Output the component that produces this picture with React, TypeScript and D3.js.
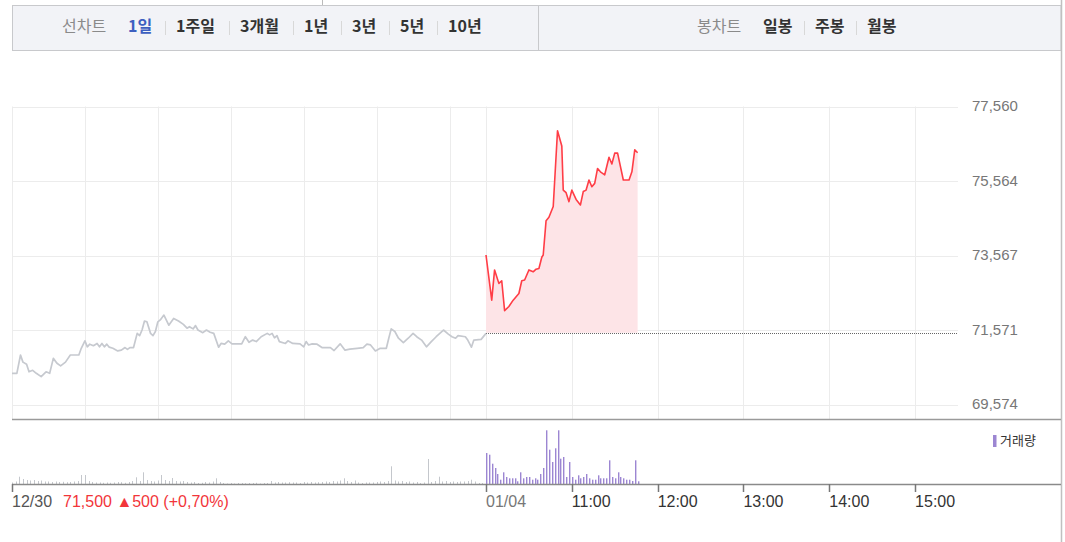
import React from 'react';
import * as d3 from 'd3';

// ---- data ----
const priceTicks = [69574, 71571, 73567, 75564, 77560];
const prevClose = 71500;

// 12/30 (09:00 start), minutes from open
const day1Minutes = [
  0, 4, 7, 9, 12, 14, 17, 20, 24, 28, 31, 34, 37, 40, 44, 48, 55, 57, 60, 62,
  64, 67, 70, 72, 74, 76, 78, 80, 83, 87, 90, 93, 95, 97, 100, 103, 105, 107, 109, 111,
  114, 116, 118, 120, 122, 125, 129, 133, 137, 141, 144, 146, 149, 151, 153, 157, 160, 163, 166, 170,
  172, 175, 178, 181, 185, 189, 192, 195, 198, 201, 205, 210, 212, 214, 216, 218, 220, 225, 227, 231,
  237, 240, 242, 244, 247, 251, 255, 262, 265, 270, 274, 278, 284, 289, 292, 295, 299, 303, 308, 310,
  312, 315, 318, 322, 326, 330, 333, 337, 341, 345, 349, 352, 355, 359, 362, 365, 367, 373, 375, 378,
  380, 386, 390,
];
const day1Prices = [
  70410, 70410, 70900, 70710, 70650, 70450, 70490, 70410, 70320, 70450, 70410, 70810, 70680, 70610, 70710, 70900, 70900, 71080, 71280, 71120,
  71190, 71150, 71210, 71120, 71210, 71120, 71190, 71110, 71080, 71010, 71030, 71100, 71050, 71100, 71100, 71480, 71420, 71570, 71810, 71790,
  71480, 71420, 71530, 71790, 71840, 71970, 71700, 71880, 71810, 71720, 71620, 71660, 71600, 71690, 71570, 71500, 71570, 71510, 71480, 71110,
  71210, 71190, 71280, 71200, 71200, 71200, 71390, 71240, 71300, 71260, 71390, 71480, 71440, 71480, 71360, 71420, 71260, 71210, 71280, 71210,
  71200, 71120, 71260, 71170, 71200, 71190, 71100, 71100, 71020, 71200, 71030, 71060, 71080, 71100, 71190, 71170, 71010, 71080, 71080, 71350,
  71600, 71530, 71350, 71230, 71350, 71480, 71390, 71300, 71120, 71260, 71390, 71480, 71570, 71460, 71390, 71350, 71420, 71390, 71300, 71110,
  71300, 71320, 71480,
];

// 01/04 (10:00 start), minutes from open
const day2Minutes = [
  0, 4, 6, 9, 11, 13, 16, 19, 23, 25, 27, 30, 33, 35, 37, 39, 40, 42, 44, 47,
  50, 53, 54, 56, 58, 60, 63, 66, 68, 70, 72, 74, 76, 78, 80, 83, 86, 88, 90, 92,
  96, 100, 102, 104, 106,
];
const day2Prices = [
  73580, 72370, 73180, 72820, 72890, 72090, 72200, 72370, 72550, 72890, 72910, 73180, 73130, 73200, 73220, 73520, 73580, 74500, 74590, 74880,
  76910, 76500, 75320, 75250, 75010, 75320, 75070, 74920, 75280, 75320, 75590, 75410, 75500, 75900, 75810, 75730, 76200, 76020, 76310, 76310,
  75590, 75590, 75810, 76400, 76320,
];

// volumes (relative units)
const day1VolStep = 3;
const day1Volumes = [
  15, 25, 73, 50, 40, 35, 40, 30, 35, 25,
  25, 20, 25, 20, 22, 18, 20, 25, 30, 90,
  90, 30, 20, 15, 15, 12, 15, 12, 15, 20,
  18, 12, 20, 30, 67, 30, 117, 40, 30, 25,
  35, 90, 40, 30, 60, 30, 25, 30, 20, 15,
  20, 10, 12, 20, 15, 25, 57, 20, 10, 5,
  10, 5, 10, 10, 8, 10, 10, 12, 5, 10,
  10, 30, 15, 20, 15, 15, 18, 15, 15, 10,
  20, 15, 20, 15, 18, 20, 25, 20, 30, 25,
  35, 57, 30, 20, 35, 15, 10, 15, 15, 15,
  20, 25, 20, 30, 177, 35, 25, 30, 20, 25,
  15, 20, 10, 15, 250, 20, 30, 73, 25, 30,
  20, 25, 20, 25, 25, 30, 43, 25, 10, 10,
  100,
];
const day2VolStep = 2;
const day2Volumes = [
  310, 293, 203, 160, 100, 43, 117, 70, 57, 57,
  57, 27, 117, 57, 70, 70, 43, 57, 43, 100,
  160, 537, 343, 220, 357, 537, 253, 270, 70, 220,
  70, 43, 87, 57, 70, 100, 57, 43, 43, 87,
  57, 57, 57, 237, 70, 57, 117, 70, 57, 43,
  43, 30, 237, 27,
];

const xTickLabels = ['12/30', '01/04', '11:00', '12:00', '13:00', '14:00', '15:00'];
const xTickMinutes = [0, 390, 450, 510, 570, 630, 690];
const gridMinutes = [0, 60, 120, 180, 240, 300, 360, 390, 450, 510, 570, 630, 690];

const lineTabs = ['1일', '1주일', '3개월', '1년', '3년', '5년', '10년'];
const candleTabs = ['일봉', '주봉', '월봉'];
const closeInfo = '71,500 ▲500 (+0,70%)';

const KR = '"Noto Sans CJK KR", "Noto Sans", sans-serif';
const NUM = '"Liberation Sans", Arial, sans-serif';

function estW(s: string, size: number) {
  let w = 0;
  for (const ch of s) w += /[0-9]/.test(ch) ? size * 0.75 : size;
  return w;
}

function TabGroup({ title, items, x0, active }: { title: string; items: string[]; x0: number; active: number }) {
  const els: React.ReactNode[] = [];
  let x = x0;
  els.push(
    <text key="t" x={x} y={28} fontSize={16} fill="#8a8a8a" fontFamily={KR} dominantBaseline="middle">{title}</text>
  );
  x += estW(title, 16) + 18;
  items.forEach((it, i) => {
    if (i > 0) {
      els.push(<line key={'s' + i} x1={x - 10.5} x2={x - 10.5} y1={21} y2={35} stroke="#d8d8d8" />);
    }
    els.push(
      <text key={'i' + i} x={x} y={28} fontSize={16} fontWeight="bold" fill={i === active ? '#3d5fc0' : '#333'} fontFamily={KR} dominantBaseline="middle">{it}</text>
    );
    x += estW(it, 16) + 20;
  });
  return <g>{els}</g>;
}

export default function App() {
  const x = d3.scaleLinear().domain([0, 390, 720]).range([12, 486, 958]);
  const y = d3.scaleLinear().domain([priceTicks[0], priceTicks[4]]).range([404.5, 106.5]);
  const vy = d3.scaleLinear().domain([0, 540]).range([484, 430]);

  const d1: [number, number][] = day1Minutes.map((m, i) => [x(m), y(day1Prices[i])]);
  const d2: [number, number][] = day2Minutes.map((m, i) => [x(390 + m), y(day2Prices[i])]);
  const line = d3.line<[number, number]>();
  const area = d3.area<[number, number]>().x(d => d[0]).y0(y(prevClose)).y1(d => d[1]);

  const plotL = 12, plotR = 958, plotT = 106.5, priceBottom = 419.5, volBase = 484, frameR = 1061;

  return (
    <svg width={1065} height={542} style={{ position: 'absolute', left: 0, top: 0, background: '#fff' }}>
      {/* tab bar */}
      <line x1={322.5} x2={322.5} y1={0} y2={5} stroke="#bbb" />
      <rect x={12.5} y={5.5} width={frameR - 12.5} height={45} fill="#f2f3f7" stroke="#c8c9cc" />
      <line x1={538.5} x2={538.5} y1={5.5} y2={50.5} stroke="#c8c9cc" />
      <TabGroup title="선차트" items={lineTabs} x0={62} active={0} />
      <TabGroup title="봉차트" items={candleTabs} x0={697} active={-1} />

      {/* right frame */}
      <line x1={frameR + 0.5} x2={frameR + 0.5} y1={0} y2={542} stroke="#c0c0c0" strokeWidth={1.5} />

      {/* grid */}
      {priceTicks.map(t => (
        <line key={'h' + t} x1={plotL} x2={plotR} y1={Math.round(y(t)) + 0.5} y2={Math.round(y(t)) + 0.5} stroke="#ececec" />
      ))}
      {gridMinutes.map(m => (
        <line key={'v' + m} x1={Math.round(x(m)) + 0.5} x2={Math.round(x(m)) + 0.5} y1={plotT} y2={priceBottom} stroke="#ececec" />
      ))}

      {/* y labels */}
      {priceTicks.map(t => (
        <text key={'yl' + t} x={972} y={y(t) + 1} fontSize={15} fill="#777" fontFamily={NUM} dominantBaseline="middle">{d3.format(',')(t)}</text>
      ))}

      {/* area + lines */}
      <path d={area(d2) || ''} fill="#fde4e7" />
      <line x1={x(390)} x2={plotR} y1={Math.round(y(prevClose)) + 0.5} y2={Math.round(y(prevClose)) + 0.5} stroke="#666" strokeDasharray="1,1" />
      <path d={line(d1) || ''} fill="none" stroke="#c6c9cf" strokeWidth={1.7} strokeLinejoin="round" />
      <path d={line(d2) || ''} fill="none" stroke="#ff3d46" strokeWidth={1.6} strokeLinejoin="round" />

      {/* price panel bottom */}
      <line x1={plotL} x2={frameR} y1={priceBottom} y2={priceBottom} stroke="#9a9a9a" strokeWidth={1.5} />

      {/* volume */}
      {day1Volumes.map((v, i) => (
        <rect key={'v1' + i} x={Math.round(x(i * day1VolStep))} y={vy(v)} width={1} height={volBase - vy(v)} fill="#c4c7cc" />
      ))}
      {day2Volumes.map((v, i) => (
        <rect key={'v2' + i} x={Math.round(x(390 + i * day2VolStep))} y={vy(v)} width={1.4} height={volBase - vy(v)} fill="#9c86d2" />
      ))}
      <line x1={plotL} x2={frameR} y1={volBase + 0.5} y2={volBase + 0.5} stroke="#8a8a8a" strokeWidth={1.5} />
      {xTickMinutes.map((m, i) => (
        <line key={'tk' + i} x1={Math.round(x(m)) + 0.5} x2={Math.round(x(m)) + 0.5} y1={volBase} y2={volBase + 8} stroke="#777" strokeWidth={1.5} />
      ))}
      {xTickLabels.map((l, i) => (
        <text key={'xl' + i} x={x(xTickMinutes[i])} y={503} fontSize={16} fill={i === 0 ? '#555' : i === 1 ? '#777' : '#333'} fontFamily={NUM} dominantBaseline="middle">{l}</text>
      ))}
      <text x={63} y={503} fontSize={16} fill="#f2353a" fontFamily={NUM} dominantBaseline="middle">{closeInfo}</text>

      {/* legend */}
      <rect x={993} y={435} width={3.5} height={12} fill="#9c86d2" />
      <text x={1000} y={441} fontSize={13} fill="#333" fontFamily={KR} dominantBaseline="middle">거래량</text>
    </svg>
  );
}
